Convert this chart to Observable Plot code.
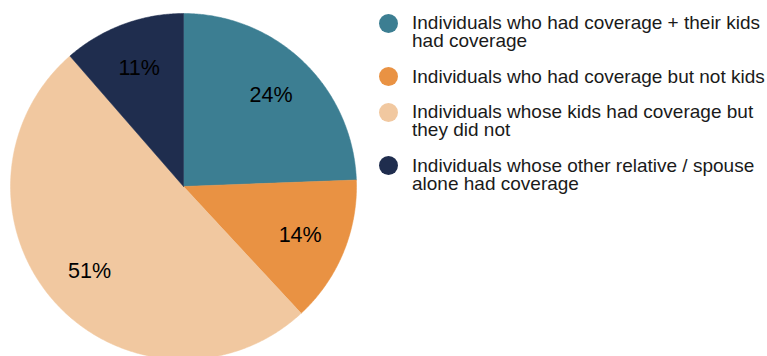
<!DOCTYPE html>
<html><head><meta charset="utf-8">
<script src="https://cdn.jsdelivr.net/npm/d3@7"></script>
<script src="https://cdn.jsdelivr.net/npm/@observablehq/plot@0.6"></script>
<style>
body{margin:0;background:#fff;font-family:"Liberation Sans",Arial,Helvetica,sans-serif;}
#wrap{position:relative;width:767px;height:356px;overflow:hidden;}
#chart{position:absolute;left:0;top:0;}
#legend{position:absolute;left:378.5px;top:14.3px;}
.item{display:flex;align-items:flex-start;margin-bottom:17.3px;}
.dot{width:19px;height:19px;border-radius:50%;margin-right:14.5px;flex:none;margin-top:-0.5px;}
.lab{font-size:19px;line-height:18px;color:#1a1a1a;white-space:pre-line;}
</style></head>
<body><div id="wrap"><div id="chart"></div><div id="legend"></div></div>
<script>
const categories = [
  "Individuals who had coverage + their kids\nhad coverage",
  "Individuals who had coverage but not kids",
  "Individuals whose kids had coverage but\nthey did not",
  "Individuals whose other relative / spouse\nalone had coverage"
];
const shares = [24.4, 13.7, 50.5, 11.4];
const pctLabels = ["24%", "14%", "51%", "11%"];
const colors = ["#3c7e92", "#e99243", "#f1c8a0", "#1f2d4e"];

// slices from cumulative shares
const total = d3.sum(shares);
let cum = 0;
const slices = categories.map((c, i) => {
  const start = cum / total; cum += shares[i];
  return {c, i, start, end: cum / total, pct: pctLabels[i]};
});
const pts = [];
slices.forEach(s => {
  pts.push({c: s.c, x: 0, y: 0});
  const n = Math.max(2, Math.ceil((s.end - s.start) * 720));
  for (let k = 0; k <= n; k++) {
    const a = 2 * Math.PI * (s.start + (s.end - s.start) * k / n);
    pts.push({c: s.c, x: Math.sin(a), y: Math.cos(a)});
  }
  pts.push({c: s.c, x: 0, y: 0});
});
const midA = s => 2 * Math.PI * (s.start + s.end) / 2;
const LR = 0.73;

const W = 370, H = 356, R = 173, CX = 183, CY = 186;
const plot = Plot.plot({
  width: W, height: H,
  margin: 0,
  x: {domain: [-CX / R, (W - CX) / R], range: [0, W], axis: null},
  y: {domain: [-(H - CY) / R, CY / R], range: [H, 0], axis: null},
  color: {domain: categories, range: colors},
  style: {background: "#fff", overflow: "hidden"},
  marks: [
    Plot.line(pts, {x: "x", y: "y", z: "c", fill: "c", stroke: "c", strokeWidth: 0.5, clip: true}),
    Plot.text(slices, {
      x: s => LR * Math.sin(midA(s)),
      y: s => LR * Math.cos(midA(s)),
      text: "pct",
      fontSize: 21.5,
      fill: "#000",
      fontFamily: "Liberation Sans, Arial, sans-serif"
    })
  ]
});
document.getElementById("chart").appendChild(plot);

const lg = d3.select("#legend");
categories.forEach((c, i) => {
  const it = lg.append("div").attr("class", "item");
  it.append("div").attr("class", "dot").style("background", colors[i]);
  it.append("div").attr("class", "lab").text(c);
});
</script>
</body></html>
